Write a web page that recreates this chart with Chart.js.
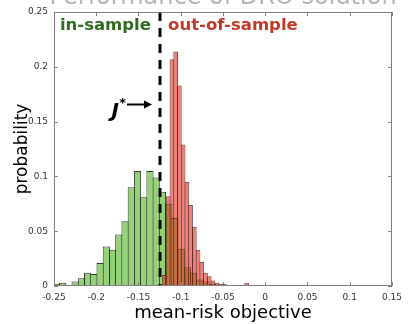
<!DOCTYPE html>
<html>
<head>
<meta charset="utf-8">
<script src="https://cdn.jsdelivr.net/npm/chart.js@4.4.0/dist/chart.umd.min.js"></script>
<style>
  html, body { margin: 0; padding: 0; background: #fff; }
  #wrap { width: 408px; height: 324px; }
</style>
</head>
<body>
<div id="wrap"><canvas id="chart" width="408" height="324"></canvas></div>
<script>
// in-sample histogram (green): first bin edge, bin width, probability per bin
const inBinStart = -0.2508;
const inBinWidth = 0.00738;
const inProb = [0.002, 0.003, 0.001, 0.004, 0.007, 0.012, 0.011, 0.021, 0.036, 0.033,
  0.047, 0.059, 0.090, 0.105, 0.081, 0.105, 0.099, 0.086, 0.075, 0.062,
  0.034, 0.017, 0.012, 0.006, 0.004, 0.002, 0.001];

// out-of-sample histogram (red)
const outBinStart = -0.1215;
const outBinWidth = 0.00442;
const outProb = [0.010, 0.082, 0.207, 0.214, 0.183, 0.129, 0.095, 0.074, 0.054, 0.033,
  0.022, 0.012, 0.009, 0.005, 0.003, 0.002, 0.002, 0.001, 0.001, 0.001,
  0.001, 0, 0.003, 0.001, 0.001];

// optimal in-sample value J*
const jStar = -0.125;

const xTicks = [-0.25, -0.2, -0.15, -0.1, -0.05, 0, 0.05, 0.1, 0.15];
const xTickLabels = ['-0.25', '-0.2', '-0.15', '-0.1', '-0.05', '0', '0.05', '0.1', '0.15'];
const yTicks = [0, 0.05, 0.1, 0.15, 0.2, 0.25];
const yTickLabels = ['0', '0.05', '0.1', '0.15', '0.2', '0.25'];

// label anchors (data coordinates)
const inLabelPos = { x: -0.243, y: 0.234 };
const outLabelPos = { x: -0.115, y: 0.234 };
const arrowY = 0.166;

function toBars(start, width, probs) {
  return probs.map((p, i) => ({ x: start + (i + 0.5) * width, y: p }));
}

const FONT = 'DejaVu Sans';

// box, inward ticks, J* line and the text labels
const framePlugin = {
  id: 'frame',
  afterDatasetsDraw(chart) {
    const { ctx, chartArea: a, scales } = chart;
    const xs = scales.x, ys = scales.y;
    ctx.save();

    // dashed J* line
    const jx = Math.round(xs.getPixelForValue(jStar));
    ctx.strokeStyle = '#000';
    ctx.lineWidth = 3;
    ctx.setLineDash([9, 7]);
    ctx.beginPath();
    ctx.moveTo(jx, a.top);
    ctx.lineTo(jx, a.bottom);
    ctx.stroke();
    ctx.setLineDash([]);

    // axes box
    ctx.strokeStyle = '#808080';
    ctx.lineWidth = 1;
    ctx.strokeRect(Math.round(a.left) + 0.5, Math.round(a.top) + 0.5,
      Math.round(a.right - a.left) - 1, Math.round(a.bottom - a.top) - 1);

    // inward ticks on all sides
    ctx.beginPath();
    xTicks.forEach(v => {
      const px = Math.round(xs.getPixelForValue(v)) + 0.5;
      ctx.moveTo(px, a.bottom); ctx.lineTo(px, a.bottom - 4);
      ctx.moveTo(px, a.top); ctx.lineTo(px, a.top + 4);
    });
    yTicks.forEach(v => {
      const py = Math.round(ys.getPixelForValue(v)) + 0.5;
      ctx.moveTo(a.left, py); ctx.lineTo(a.left + 4, py);
      ctx.moveTo(a.right, py); ctx.lineTo(a.right - 4, py);
    });
    ctx.stroke();

    // in-sample / out-of-sample labels
    ctx.textBaseline = 'alphabetic';
    ctx.textAlign = 'left';
    ctx.font = 'bold 16.5px "' + FONT + '"';
    ctx.fillStyle = '#2f6b20';
    ctx.fillText('in-sample', xs.getPixelForValue(inLabelPos.x), ys.getPixelForValue(inLabelPos.y));
    ctx.fillStyle = '#c23b28';
    ctx.fillText('out-of-sample', xs.getPixelForValue(outLabelPos.x), ys.getPixelForValue(outLabelPos.y));

    // arrow pointing at the J* line
    const ay = Math.round(ys.getPixelForValue(arrowY)) + 0.5;
    const tip = jx - 8;
    const tail = tip - 25;
    ctx.strokeStyle = '#000';
    ctx.fillStyle = '#000';
    ctx.lineWidth = 2;
    ctx.beginPath();
    ctx.moveTo(tail, ay);
    ctx.lineTo(tip - 6, ay);
    ctx.stroke();
    ctx.beginPath();
    ctx.moveTo(tip, ay);
    ctx.lineTo(tip - 8, ay - 4);
    ctx.lineTo(tip - 8, ay + 4);
    ctx.closePath();
    ctx.fill();

    // J* text
    ctx.textAlign = 'right';
    ctx.font = 'bold 13px "' + FONT + '"';
    ctx.fillText('*', tail - 1, ay + 2);
    ctx.font = 'italic bold 20px "' + FONT + '"';
    ctx.fillText('J', tail - 8, ay + 12);

    // title, mostly cut off by the top edge
    ctx.textAlign = 'center';
    ctx.font = '24px "' + FONT + '"';
    ctx.fillStyle = '#b4b4b4';
    ctx.fillText('Performance of DRO solution', (a.left + a.right) / 2, 4);

    ctx.restore();
  }
};

const tickFont = { family: FONT, size: 9 };

new Chart(document.getElementById('chart').getContext('2d'), {
  type: 'bar',
  data: {
    datasets: [
      {
        label: 'out-of-sample',
        data: toBars(outBinStart, outBinWidth, outProb),
        xAxisID: 'x2',
        backgroundColor: 'rgba(233, 43, 27, 0.6)',
        borderColor: 'rgba(75, 25, 20, 0.75)',
        borderWidth: 1,
        borderSkipped: false,
        grouped: false,
        // bars overlap by one border width so neighbouring edges share a line
        barPercentage: 1.26,
        categoryPercentage: 1,
        order: 1
      },
      {
        label: 'in-sample',
        data: toBars(inBinStart, inBinWidth, inProb),
        xAxisID: 'x',
        backgroundColor: 'rgb(147, 211, 118)',
        borderColor: 'rgba(25, 35, 20, 0.9)',
        borderWidth: 1,
        borderSkipped: false,
        grouped: false,
        barPercentage: 1.157,
        categoryPercentage: 1,
        order: 2
      }
    ]
  },
  options: {
    responsive: false,
    animation: false,
    devicePixelRatio: 1,
    layout: { padding: { top: 12, right: 10, left: 0, bottom: 0 } },
    plugins: {
      legend: { display: false },
      tooltip: { enabled: false }
    },
    scales: {
      x: {
        type: 'linear',
        position: 'bottom',
        min: -0.25,
        max: 0.15,
        offset: false,
        afterBuildTicks: s => { s.ticks = xTicks.map(v => ({ value: v })); },
        afterFit: s => { s.height = 38; },
        grid: { display: false, drawTicks: false, offset: false },
        border: { display: false },
        ticks: {
          font: tickFont,
          color: '#333',
          padding: 6,
          maxRotation: 0,
          autoSkip: false,
          callback: (v, i) => xTickLabels[i]
        },
        title: {
          display: true,
          text: 'mean-risk objective',
          font: { family: FONT, size: 18 },
          color: '#000',
          padding: { top: 0, bottom: 0 }
        }
      },
      x2: {
        type: 'linear',
        position: 'bottom',
        min: -0.25,
        max: 0.15,
        offset: false,
        display: false,
        grid: { offset: false }
      },
      y: {
        type: 'linear',
        min: 0,
        max: 0.25,
        afterBuildTicks: s => { s.ticks = yTicks.map(v => ({ value: v })); },
        afterFit: s => { s.width = 54; },
        grid: { display: false, drawTicks: false },
        border: { display: false },
        ticks: {
          font: tickFont,
          color: '#333',
          padding: 6,
          callback: (v, i) => yTickLabels[i]
        },
        title: {
          display: true,
          text: 'probability',
          font: { family: FONT, size: 17 },
          color: '#000',
          padding: { top: 12, bottom: 0 }
        }
      }
    }
  },
  plugins: [framePlugin]
});
</script>
</body>
</html>
